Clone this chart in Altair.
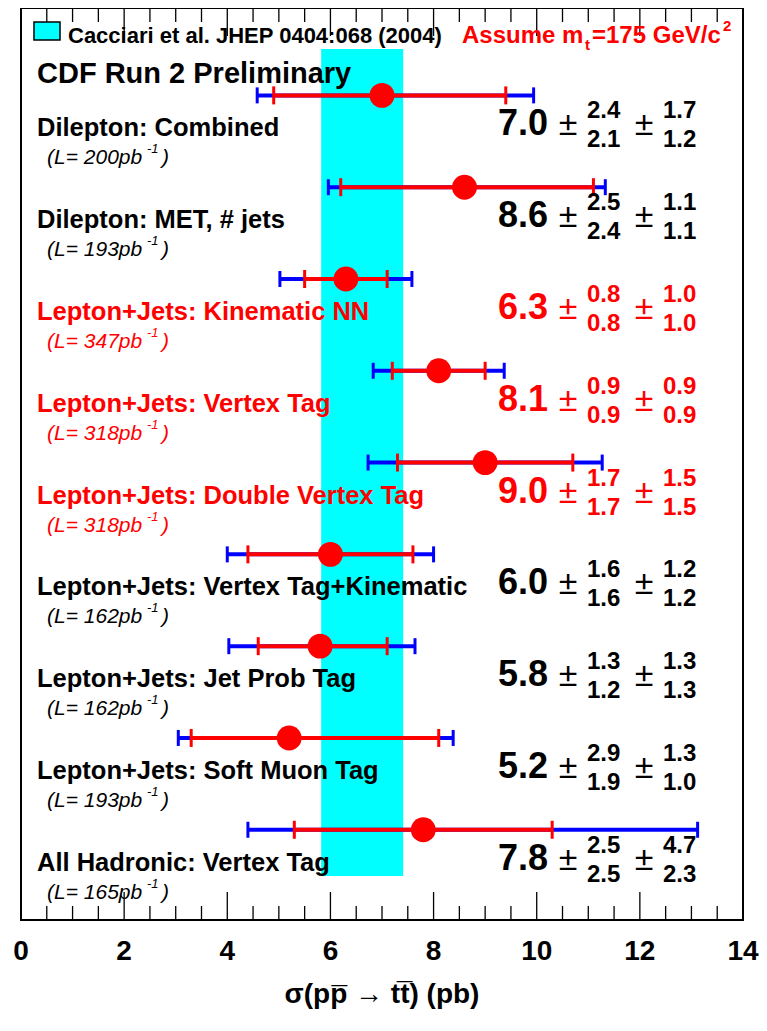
import altair as alt
import pandas as pd

# ---------------- data ----------------
names = [
    "Dilepton: Combined",
    "Dilepton: MET, # jets",
    "Lepton+Jets: Kinematic NN",
    "Lepton+Jets: Vertex Tag",
    "Lepton+Jets: Double Vertex Tag",
    "Lepton+Jets: Vertex Tag+Kinematic",
    "Lepton+Jets: Jet Prob Tag",
    "Lepton+Jets: Soft Muon Tag",
    "All Hadronic: Vertex Tag",
]
lumi = [200, 193, 347, 318, 318, 162, 162, 193, 165]
values = [7.0, 8.6, 6.3, 8.1, 9.0, 6.0, 5.8, 5.2, 7.8]
stat_up = [2.4, 2.5, 0.8, 0.9, 1.7, 1.6, 1.3, 2.9, 2.5]
stat_dn = [2.1, 2.4, 0.8, 0.9, 1.7, 1.6, 1.2, 1.9, 2.5]
syst_up = [1.7, 1.1, 1.0, 0.9, 1.5, 1.2, 1.3, 1.3, 4.7]
syst_dn = [1.2, 1.1, 1.0, 0.9, 1.5, 1.2, 1.3, 1.0, 2.3]
total_lo = [4.58, 5.96, 5.02, 6.83, 6.73, 4.00, 4.03, 3.05, 4.40]
total_hi = [9.94, 11.33, 7.58, 9.37, 11.27, 8.00, 7.64, 8.38, 13.12]
highlight = [False, False, True, True, True, False, False, False, False]
rows = [1, 2, 3, 4, 5, 6, 7, 8, 9]

theory_lo = [5.82]
theory_hi = [7.41]

x_labels = [0, 2, 4, 6, 8, 10, 12, 14]
major_ticks = [0, 2, 4, 6, 8, 10, 12, 14]
minor_ticks = [0.5, 1, 1.5, 2.5, 3, 3.5, 4.5, 5, 5.5, 6.5, 7, 7.5, 8.5, 9, 9.5,
               10.5, 11, 11.5, 12.5, 13, 13.5]

df = pd.DataFrame({
    "row": rows,
    "name": names,
    "lumi_text": ["(L= %dpb" % l for l in lumi],
    "value": values,
    "stat_up": stat_up,
    "stat_dn": stat_dn,
    "syst_up": syst_up,
    "syst_dn": syst_dn,
    "stat_lo": [v - d for v, d in zip(values, stat_dn)],
    "stat_hi": [v + u for v, u in zip(values, stat_up)],
    "tot_lo": total_lo,
    "tot_hi": total_hi,
    "highlight": highlight,
})

# ---------------- styling ----------------
FONT = "Liberation Sans"
RED = "#ff0000"
BLUE = "#0000ff"
CYAN = "#00ffff"
W, H = 722, 912
MAJ, MIN = 28, 14

xscale = alt.Scale(domain=[0, 14], nice=False, zero=False)
yscale = alt.Scale(domain=[0.048, 9.983], reverse=True, nice=False, zero=False)
Y = alt.Y("row:Q", scale=yscale, axis=None)
col = alt.condition("datum.highlight", alt.value(RED), alt.value("black"))

TITLE = "\u03c3(pp\u0305 \u2192 tt\u0305) (pb)"

base = alt.Chart(df)
one = alt.Chart(pd.DataFrame({"a": [0]}))

def X(field):
    return alt.X(field, scale=xscale, axis=None)

# page-pixel helpers (the plot area starts at page x=21, y=8)
def vx(p):
    return alt.value(p - 21)

def vy(p):
    return alt.value(p - 8)

band = alt.Chart(pd.DataFrame({"lo": theory_lo, "hi": theory_hi})).mark_rect(
    color=CYAN, opacity=1
).encode(x=X("lo:Q"), x2="hi:Q", y=vy(49), y2=vy(876))

def tick_layer(vals, y0, y1):
    return alt.Chart(pd.DataFrame({"t": vals})).mark_rule(
        color="black", strokeWidth=1.3
    ).encode(x=X("t:Q"), y=alt.value(y0), y2=alt.value(y1))

ticks = [
    tick_layer(major_ticks, 0, MAJ),
    tick_layer(minor_ticks, 0, MIN),
    tick_layer(major_ticks, H - MAJ, H),
    tick_layer(minor_ticks, H - MIN, H),
]

tick_labels = alt.Chart(pd.DataFrame({"v": x_labels})).mark_text(
    baseline="alphabetic", align="center", font=FONT, fontSize=28,
    fontWeight="bold", color="black"
).encode(x=X("v:Q"), y=alt.value(H + 40), text=alt.Text("v:Q", format="d"))

x_title = one.mark_text(
    baseline="alphabetic", align="center", font=FONT, fontSize=28,
    fontWeight="bold", color="black"
).encode(x=alt.value(W / 2), y=alt.value(H + 83), text=alt.value(TITLE))

def hline(lo, hi, color):
    return base.mark_rule(color=color, strokeWidth=4).encode(
        x=X(lo + ":Q"), x2=hi + ":Q", y=Y)

def cap(field, color, half):
    return base.mark_rule(color=color, strokeWidth=3, yOffset=-half, y2Offset=half).encode(
        x=X(field + ":Q"), y=Y, y2="row:Q")

points = base.mark_circle(color=RED, size=620, opacity=1).encode(
    x=X("value:Q"), y=Y)

def row_text(xpage, dy, text, size, weight="bold", style="normal", align="left", fmt=None):
    if text.startswith("~"):
        t = alt.value(text[1:])
    else:
        t = alt.Text(text, format=fmt) if fmt else alt.Text(text)
    return base.mark_text(
        align=align, baseline="alphabetic", font=FONT, fontSize=size,
        fontWeight=weight, fontStyle=style, dy=dy
    ).encode(x=vx(xpage), y=Y, text=t, color=col)

texts = [
    row_text(37, 41, "name:N", 25.5),
    row_text(47, 69, "lumi_text:N", 21, weight="normal", style="italic"),
    row_text(147, 58, "~-1", 13, weight="normal", style="italic"),
    row_text(162, 69, "~)", 21, weight="normal", style="italic"),
    row_text(498, 40, "value:Q", 36, fmt=".1f"),
    row_text(568, 40, "~\u00b1", 34, weight="normal", align="center"),
    row_text(587, 23, "stat_up:Q", 24, fmt=".1f"),
    row_text(587, 52, "stat_dn:Q", 24, fmt=".1f"),
    row_text(644, 40, "~\u00b1", 34, weight="normal", align="center"),
    row_text(663, 23, "syst_up:Q", 24, fmt=".1f"),
    row_text(663, 52, "syst_dn:Q", 24, fmt=".1f"),
]

def note(xpage, ypage, text, size, color="black", weight="bold"):
    return one.mark_text(
        align="left", baseline="alphabetic", font=FONT, fontSize=size,
        fontWeight=weight, color=color
    ).encode(x=vx(xpage), y=vy(ypage), text=alt.value(text))

legend_box = one.mark_rect(fill=CYAN, stroke="black", strokeWidth=1.5).encode(
    x=vx(34), x2=vx(60), y=vy(22), y2=vy(40))

notes = [
    legend_box,
    note(68, 43, "Cacciari et al. JHEP 0404:068 (2004)", 22),
    note(462, 43, "Assume m", 24, RED),
    note(585, 50, "t", 15, RED),
    note(592, 43, "=175 GeV/c", 24, RED),
    note(723, 31, "2", 15, RED),
    note(37, 83, "CDF Run 2 Preliminary", 29),
]

chart = alt.layer(
    band, *ticks,
    hline("tot_lo", "tot_hi", BLUE), cap("tot_lo", BLUE, 8), cap("tot_hi", BLUE, 8),
    hline("stat_lo", "stat_hi", RED), cap("stat_lo", RED, 9), cap("stat_hi", RED, 9),
    points, *texts, *notes, tick_labels, x_title
).properties(
    width=W, height=H,
    autosize=alt.AutoSizeParams(type="none"),
    padding={"left": 13, "top": 0, "right": 16, "bottom": 90},
    background="white",
).configure_view(stroke="black", strokeWidth=2)

chart.save("out.html", embed_options={"renderer": "svg", "actions": False})
